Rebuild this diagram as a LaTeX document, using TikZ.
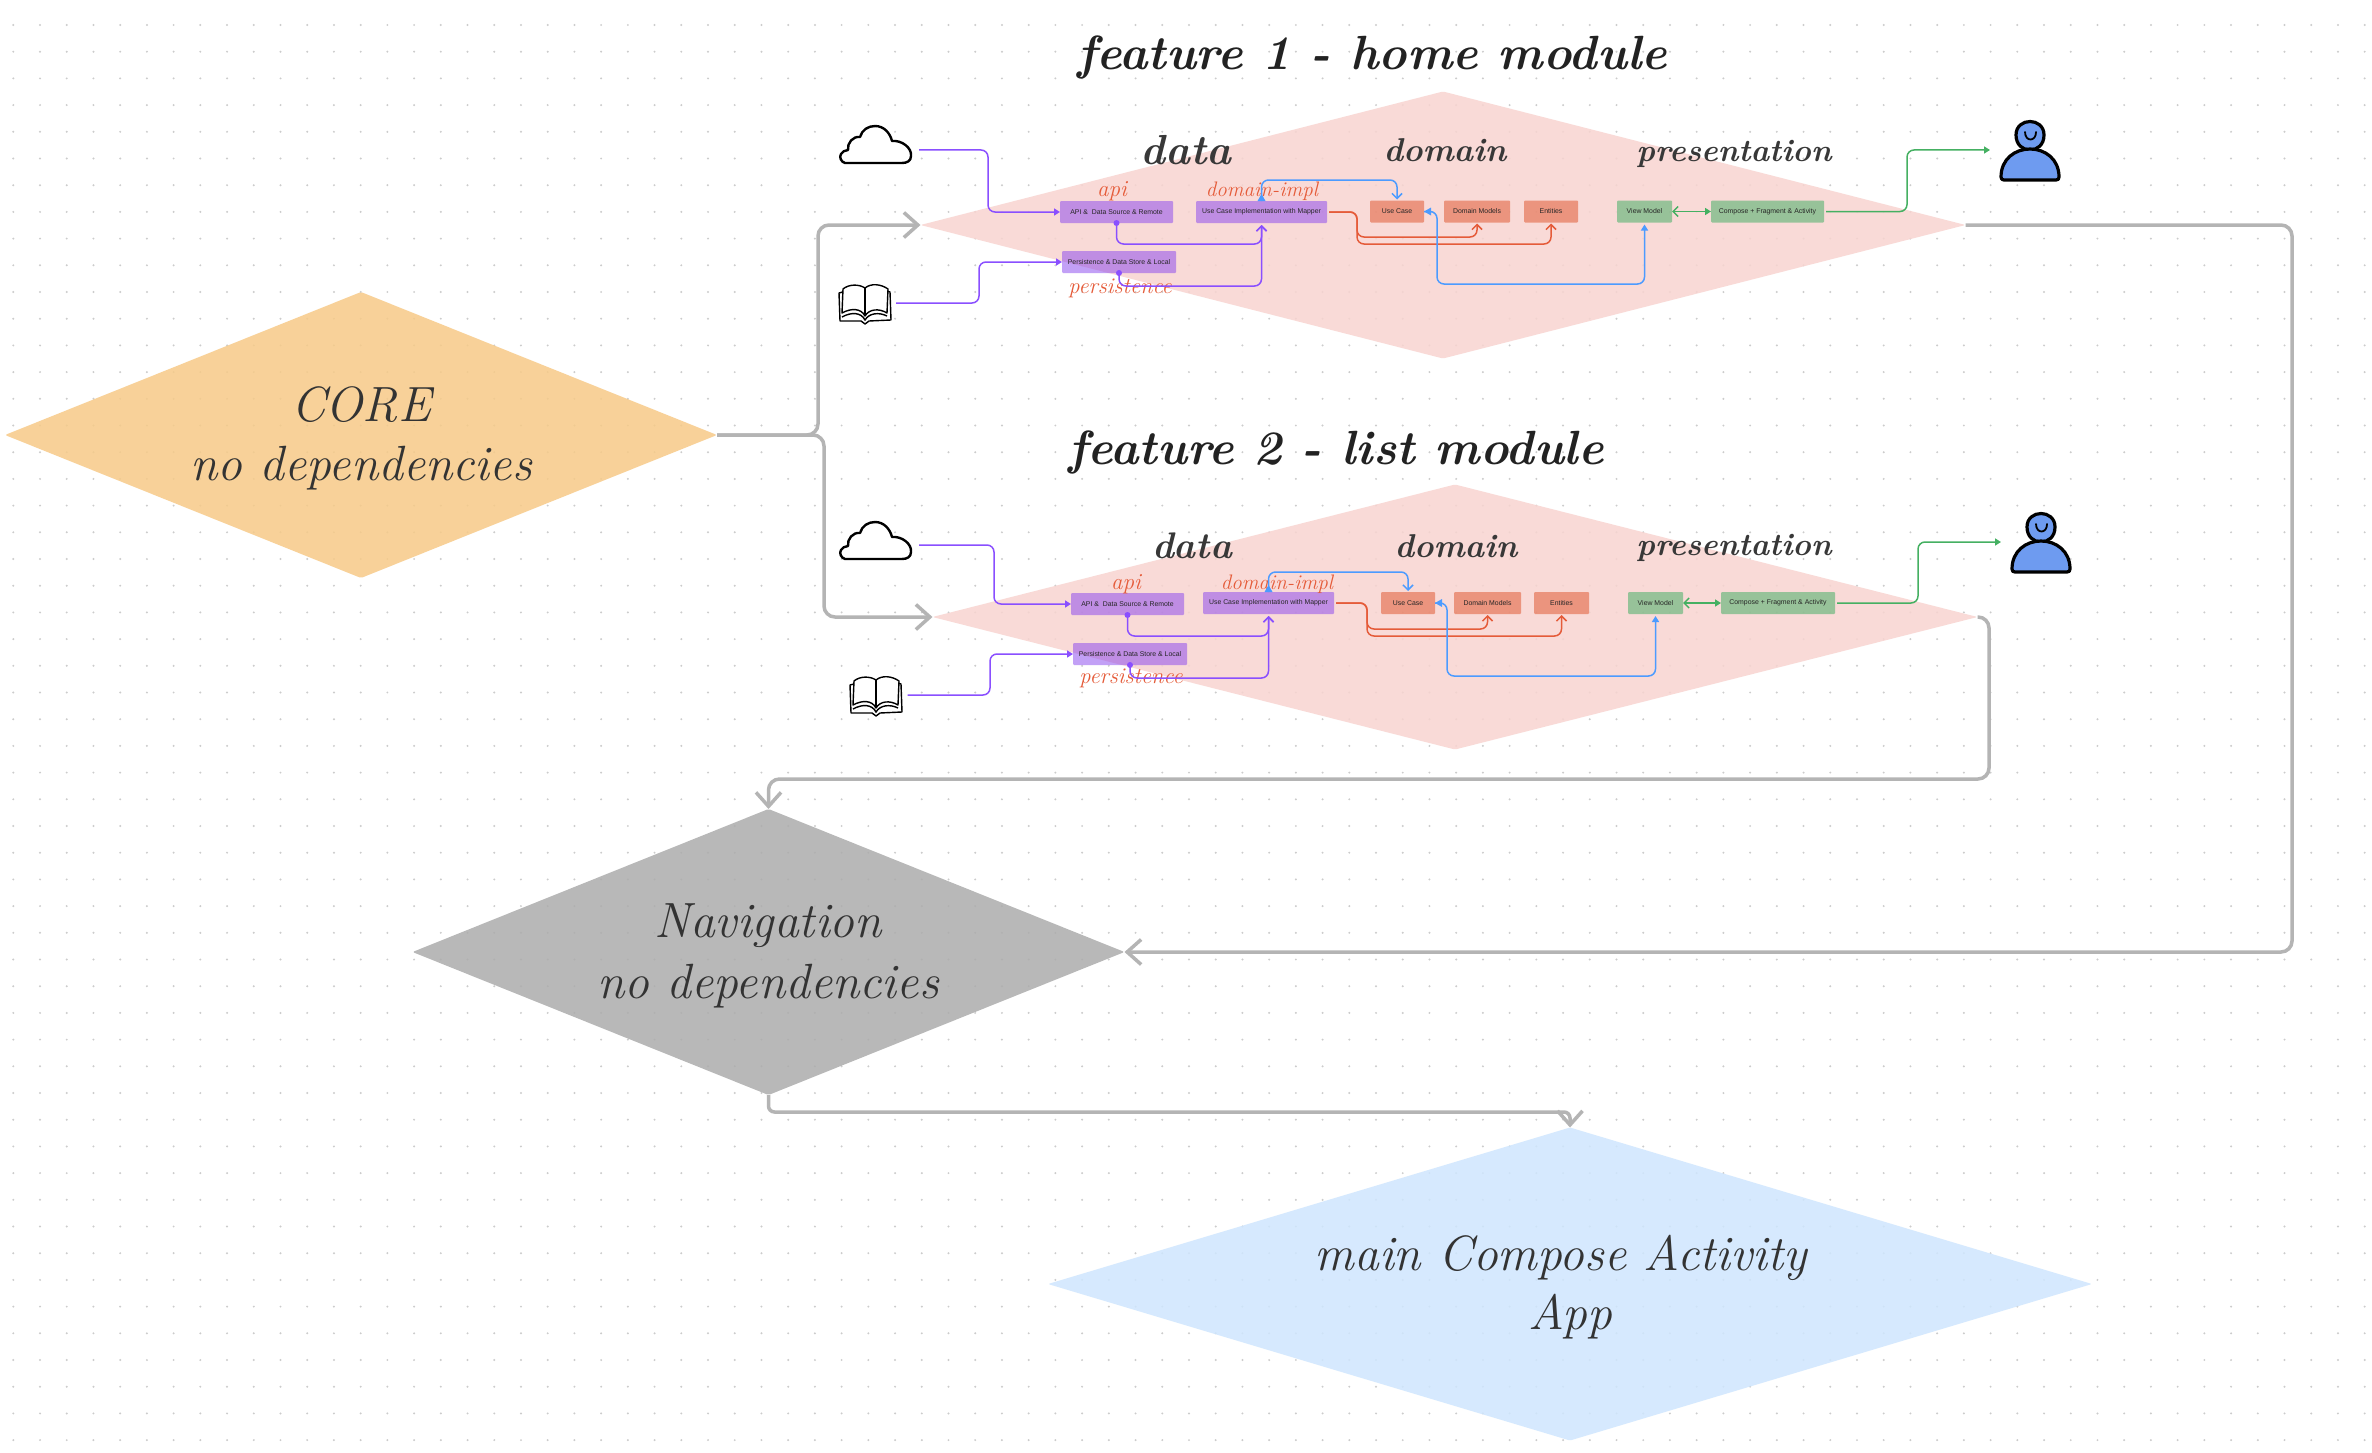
\documentclass[tikz,border=0pt]{standalone}
\usepackage{fontspec}
\usetikzlibrary{arrows.meta,shapes.geometric}
\newfontfamily\boxfont{Liberation Sans}
\definecolor{cpurple}{HTML}{8A4FFF}
\definecolor{cblue}{HTML}{4C9BFF}
\definecolor{cred}{HTML}{E55B39}
\definecolor{cgreen}{HTML}{45B062}
\definecolor{cgrey}{HTML}{B4B4B4}
\definecolor{dotc}{HTML}{CCCCCC}
\definecolor{inkc}{HTML}{222222}
\definecolor{userc}{HTML}{6E9BF0}
\tikzset{
  dia/.style={shape=diamond,draw=none,inner sep=0pt,outer sep=0pt,rounded corners=1.5pt,fill opacity=.85},
  mbox/.style={shape=rectangle,inner sep=0pt,outer sep=0pt,rounded corners=1pt,fill opacity=.5,text opacity=1,minimum height=22pt,font=\boxfont\fontsize{6.9}{9}\selectfont,text=black!85},
  pbox/.style={mbox,fill={rgb,255:red,135;green,66;blue,239}},
  rbox/.style={mbox,fill={rgb,255:red,223;green,80;blue,39}},
  gbox/.style={mbox,fill={rgb,255:red,55;green,172;blue,93}},
  anchorbox/.style={shape=rectangle,inner sep=0pt,outer sep=0pt},
  bigtitle/.style={font=\fontsize{48}{56}\selectfont\bfseries\itshape,text=inkc,inner sep=0pt},
  layertitle/.style={font=\fontsize{#1}{40}\selectfont\bfseries\itshape,text=inkc!90,inner sep=0pt},
  redlabel/.style={font=\fontsize{#1}{26}\selectfont\itshape\addfontfeature{FakeBold=0.6},text=cred,inner sep=0pt},
  diatext/.style={font=\fontsize{49.5}{54}\selectfont\itshape\addfontfeature{FakeBold=1},text=black!80,inner sep=0pt},
  pline/.style={cpurple,line width=1.5pt,rounded corners=7pt},
  bline/.style={cblue,line width=1.5pt,rounded corners=7pt},
  rline/.style={cred,line width=1.5pt,rounded corners=7pt},
  gline/.style={cgreen,line width=1.5pt,rounded corners=7pt},
  greyline/.style={cgrey,line width=3.5pt,rounded corners=11pt},
  greytip/.style={-{Straight Barb[length=14pt,width=25pt,line width=3.5pt]}},
  fulltip/.style={-{Triangle[length=6pt,width=7pt]}},
  barbtip/.style={-{Straight Barb[length=5pt,width=10pt,line width=1.5pt]},shorten >=1pt},
  cloudicon/.pic={
    \draw[black,line width=2.4pt,fill=white,line join=round]
      (5,37) .. controls (1,36) and (-1,31) .. (1,28) .. controls (2,26) and (5,24) .. (8,24)
      .. controls (7,17) and (13,10) .. (20,11) .. controls (22,4) and (28,0) .. (35,0)
      .. controls (44,0) and (50,7) .. (52,15) .. controls (62,14) and (72,22) .. (71,30)
      .. controls (71,35) and (67,37) .. (62,37) -- cycle;
  },
  bookicon/.pic={
    \draw[black,line width=1.4pt,fill=white,line join=round] (4,8) -- (0,9) -- (1,37) -- (22,37) -- (26,40) -- (30,37) -- (52,36) -- (51,8) -- (48,7);
    \draw[black,line width=1.4pt,fill=white,line join=round] (26,4) .. controls (20,0) and (10,0) .. (4,5) -- (3,29) .. controls (12,24) and (22,24) .. (26,32) .. controls (30,25) and (40,24) .. (48,29) -- (49,5) .. controls (42,0) and (32,-1) .. (26,4) -- cycle;
    \draw[black,line width=1.4pt] (26,4) -- (26,32);
    \draw[black,line width=1.4pt] (3,33) .. controls (12,28) and (22,28) .. (26,36) .. controls (30,29) and (40,28) .. (48,32);
  },
  usericon/.pic={
    \draw[black,line width=3.2pt,fill=userc] (16,14) .. controls (16,-4) and (44,-4) .. (44,14) .. controls (44,34) and (16,34) .. (16,14) -- cycle;
    \draw[black,line width=3.2pt,fill=userc,line join=round] (1,56) .. controls (1,38) and (15,28) .. (30,28) .. controls (45,28) and (59,38) .. (59,56) .. controls (59,58) and (58,59) .. (56,59) -- (4,59) .. controls (2,59) and (1,58) .. (1,56) -- cycle;
    \draw[black,line width=1.8pt,line cap=round] (25,11) .. controls (25,21) and (36,21) .. (36,11);
  }
}
\begin{document}
\begin{tikzpicture}[x=1pt,y=-1pt]
\useasboundingbox (0,0) rectangle (2372,1453);
\fill[white] (0,0) rectangle (2372,1453);
\foreach \i in {0,...,88} {\foreach \j in {0,...,53} {\fill[dotc] (13.3+\i*26.72,25+\j*26.7) circle (1.1pt);}}

% big diamonds
\node[dia,fill={rgb,255:red,247;green,202;blue,136},minimum width=712pt,minimum height=286pt] (coreD) at (361,435) {};
\node[dia,fill={rgb,255:red,248;green,212;blue,208},minimum width=1045pt,minimum height=267pt] (featA) at (1443,225) {};
\node[dia,fill={rgb,255:red,248;green,212;blue,208},minimum width=1045pt,minimum height=265pt] (featB) at (1455,617) {};
\node[dia,fill={rgb,255:red,172;green,172;blue,172},minimum width=712pt,minimum height=286pt] (navD) at (768.5,952) {};
\node[dia,fill={rgb,255:red,207;green,230;blue,254},minimum width=1044pt,minimum height=313pt] (mainD) at (1570,1284) {};

% titles
\node[bigtitle] (titleA) at (1372,58) {feature 1 - home module};
\node[bigtitle] (titleB) at (1336,452) {feature 2 - list module};
\node[layertitle=42] (dataA) at (1186,150) {data};
\node[layertitle=33] (domA) at (1445,150) {domain};
\node[layertitle=31.5] (presA) at (1734,154) {presentation};
\node[layertitle=37] (dataB) at (1192,546) {data};
\node[layertitle=33] (domB) at (1456,546) {domain};
\node[layertitle=31.5] (presB) at (1734,548) {presentation};

% diamond texts
\node[diatext] (coreT) at (361,405) {\addfontfeature{LetterSpace=16}CORE};
\node[diatext] (coreS) at (361,468) {no dependencies};
\node[diatext] (navT) at (768,926) {Navigation};
\node[diatext] (navS) at (768,986) {no dependencies};
\node[diatext] (mainT) at (1561,1258) {main Compose Activity};
\node[diatext] (mainS) at (1570,1317) {App};

% feature 1 boxes
\node[pbox,minimum width=113pt] (apiA) at (1116.5,212) {API \&\ \ Data Source \& Remote};
\node[pbox,minimum width=131pt] (implA) at (1261.5,212) {Use Case Implementation with Mapper};
\node[pbox,minimum width=114pt] (perA) at (1119,262) {Persistence \& Data Store \& Local};
\node[rbox,minimum width=54pt] (useA) at (1397,211.5) {Use Case};
\node[rbox,minimum width=66pt] (dmA) at (1477,211.5) {Domain Models};
\node[rbox,minimum width=54pt] (entA) at (1551,211.5) {Entities};
\node[gbox,minimum width=55pt] (vmA) at (1644.5,211.5) {View Model};
\node[gbox,minimum width=113pt] (compA) at (1767.5,211.5) {Compose + Fragment \& Activity};

% feature 2 boxes
\node[pbox,minimum width=113pt] (apiB) at (1127.5,604) {API \&\ \ Data Source \& Remote};
\node[pbox,minimum width=131pt] (implB) at (1268.5,603) {Use Case Implementation with Mapper};
\node[pbox,minimum width=114pt] (perB) at (1130,654) {Persistence \& Data Store \& Local};
\node[rbox,minimum width=54pt] (useB) at (1408,603) {Use Case};
\node[rbox,minimum width=67pt] (dmB) at (1487.5,603) {Domain Models};
\node[rbox,minimum width=55pt] (entB) at (1561.5,603) {Entities};
\node[gbox,minimum width=55pt] (vmB) at (1655.5,603) {View Model};
\node[gbox,minimum width=114pt] (compB) at (1778,603) {Compose + Fragment \& Activity};

% red labels
\node[redlabel=23] (lapiA) at (1112,191) {api};
\node[redlabel=21] (limplA) at (1262,191) {domain-impl};
\node[redlabel=22.5] (lperA) at (1120,288) {persistence};
\node[redlabel=23] (lapiB) at (1126,584) {api};
\node[redlabel=21] (limplB) at (1277,584) {domain-impl};
\node[redlabel=22.5] (lperB) at (1131,678) {persistence};

% icons: anchor nodes reach out to where the connectors start and end
\node[anchorbox,minimum width=80pt,minimum height=48pt] (cloudA) at (879,150) {};
\node[anchorbox,minimum width=57pt,minimum height=40pt] (bookA) at (867.5,303) {};
\node[anchorbox,minimum width=70pt,minimum height=60pt] (userA) at (2025,150) {};
\node[anchorbox,minimum width=79pt,minimum height=48pt] (cloudB) at (879.5,545) {};
\node[anchorbox,minimum width=58pt,minimum height=42pt] (bookB) at (878.5,695) {};
\node[anchorbox,minimum width=69pt,minimum height=60pt] (userB) at (2035.5,542) {};
\pic at (840,126) {cloudicon};
\pic at (839,284) {bookicon};
\pic at (2000,121) {usericon};
\pic at (840,522) {cloudicon};
\pic at (850,676) {bookicon};
\pic at (2011,513) {usericon};

% feature 1 connectors
\draw[pline,fulltip] (cloudA.east) -- (988,150) |- (apiA.west);
\draw[pline,fulltip] (bookA.east) -- (979,303) |- (perA.west);
\draw[pline,barbtip] (apiA.south) -- ++(0,21) -| ([yshift=-1pt]implA.south);
\draw[pline,barbtip] (perA.south) -- ++(0,13) -| ([yshift=-1pt]implA.south);
\fill[cpurple] (apiA.south) circle (3pt);
\fill[cpurple] (perA.south) circle (3pt);
\draw[bline,barbtip] (implA.north) -- ++(0,-21) -| (useA.north);
\fill[cblue] (implA.north) ++(-4,0) -- ++(8,0) -- ++(-4,-7) -- cycle;
\draw[rline,barbtip,shorten <=2pt] (implA.east) -- (1357,212) -- (1357,237) -| (dmA.south);
\draw[rline,barbtip,shorten <=2pt] (implA.east) -- (1357,212) -- (1357,244) -| (entA.south);
\draw[bline,fulltip,shorten >=2pt] (useA.east) -- (1437,211.5) -- (1437,284) -| (vmA.south);
\fill[cblue] (useA.east) -- ++(7,-4) -- ++(0,8) -- cycle;
\draw[gline,{Straight Barb[length=5pt,width=10pt,line width=1.5pt]}-{Triangle[length=6pt,width=7pt]}] (vmA.east) -- (compA.west);
\draw[gline,fulltip,shorten <=2pt] (compA.east) -- (1907,211.5) |- (userA.west);

% feature 2 connectors
\draw[pline,fulltip] (cloudB.east) -- (994,545) |- (apiB.west);
\draw[pline,fulltip] (bookB.east) -- (990,695) |- (perB.west);
\draw[pline,barbtip] (apiB.south) -- ++(0,21) -| ([yshift=-1pt]implB.south);
\draw[pline,barbtip] (perB.south) -- ++(0,13) -| ([yshift=-1pt]implB.south);
\fill[cpurple] (apiB.south) circle (3pt);
\fill[cpurple] (perB.south) circle (3pt);
\draw[bline,barbtip] (implB.north) -- ++(0,-20) -| (useB.north);
\fill[cblue] (implB.north) ++(-4,0) -- ++(8,0) -- ++(-4,-7) -- cycle;
\draw[rline,barbtip,shorten <=2pt] (implB.east) -- (1367,603) -- (1367,629) -| (dmB.south);
\draw[rline,barbtip,shorten <=2pt] (implB.east) -- (1367,603) -- (1367,636) -| (entB.south);
\draw[bline,fulltip,shorten >=2pt] (useB.east) -- (1447,603) -- (1447,676) -| (vmB.south);
\fill[cblue] (useB.east) -- ++(7,-4) -- ++(0,8) -- cycle;
\draw[gline,{Straight Barb[length=5pt,width=10pt,line width=1.5pt]}-{Triangle[length=6pt,width=7pt]}] (vmB.east) -- (compB.west);
\draw[gline,fulltip,shorten <=2pt] (compB.east) -- (1918,603) |- (userB.west);

% grey module connectors
\draw[greyline,greytip] (coreD.east) -- (818,435) -- (818,225) -- (featA.west);
\draw[greyline,greytip] (coreD.east) -- (824,435) -- (824,617) -- (featB.west);
\draw[greyline,greytip] (featA.east) -- (2292,225) -- (2292,952) -- (navD.east);
\draw[greyline,greytip] (featB.east) -- (1989,617) -- (1989,779) -- (768.5,779) -- (navD.north);
\draw[greyline,greytip,rounded corners=6pt] (navD.south) -- (768.5,1112) -- (1570,1112) -- (mainD.north);
\end{tikzpicture}
\end{document}
